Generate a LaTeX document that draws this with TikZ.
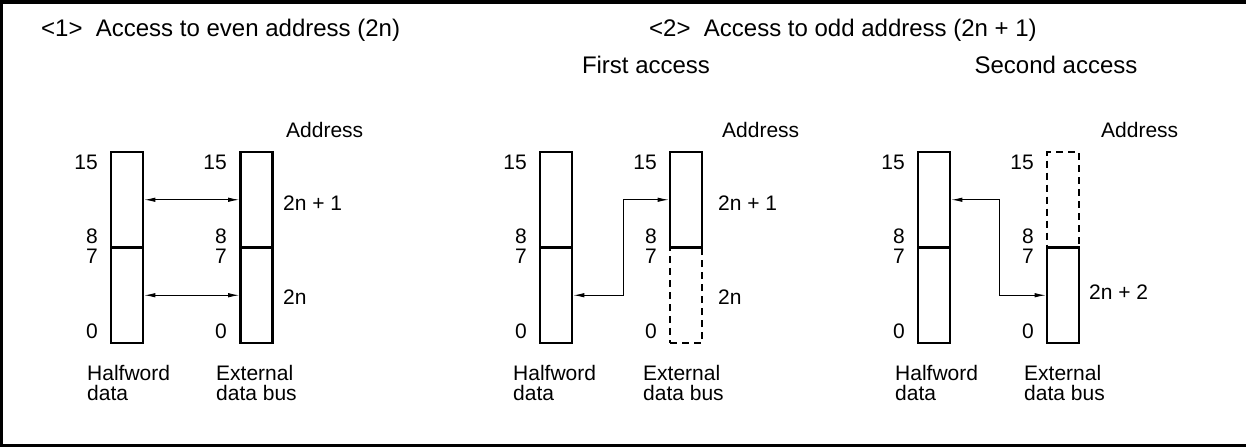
\documentclass[tikz,border=0pt]{standalone}
\usepackage{fontspec}
\setmainfont{Liberation Sans}
\usetikzlibrary{arrows.meta}
\newcommand{\lblfont}{\fontsize{21}{20}\selectfont}
\newcommand{\headfont}{\fontsize{24}{24}\selectfont}
\tikzset{
  half/.style={draw, line width=2.8pt, minimum width=32pt, minimum height=95.5pt, inner sep=0pt},
  ghost/.style={draw, line width=2.5pt, dash pattern=on 7pt off 5pt, minimum width=32pt, minimum height=95.5pt, inner sep=0pt},
  lbl/.style={font=\lblfont, inner sep=0pt},
  num/.style={lbl, anchor=base east},
  head/.style={font=\headfont, inner sep=0pt},
  link/.style={line width=0.9pt, {Latex[length=11pt,width=4.5pt]}-{Latex[length=11pt,width=4.5pt]}},
  frame/.style={line width=3.5pt}
}
\begin{document}
\begin{tikzpicture}[x=1pt,y=-1pt]
\useasboundingbox (0,0) rectangle (1246,447);
\clip (0,0) rectangle (1246,447);
\draw[frame] (1.5,2) rectangle (1252,445.5);

% headings
\node[head, anchor=base west] (t1) at (41,36) {<1>\ \ Access to even address (2n)};
\node[head, anchor=base west] (t2) at (649,36) {<2>\ \ Access to odd address (2n + 1)};
\node[head, anchor=base] (fa) at (646,73) {First access};
\node[head, anchor=base] (sa) at (1056,73) {Second access};

% address labels
\node[lbl, anchor=base west] (ad1) at (286,137) {Address};
\node[lbl, anchor=base west] (ad2) at (722,137) {Address};
\node[lbl, anchor=base west] (ad3) at (1101,137) {Address};

% panel 1 registers
\node[half] (h1u) at (127,199.75) {};
\node[half] (h1l) at (127,295.25) {};
\node[half] (e1u) at (256.5,199.75) {};
\node[half] (e1l) at (256.5,295.25) {};

% panel 2 registers
\node[half] (h2u) at (556,199.75) {};
\node[half] (h2l) at (556,295.25) {};
\node[ghost] (e2l) at (686,295.25) {};
\node[half] (e2u) at (686,199.75) {};

% panel 3 registers
\node[half] (h3u) at (934,199.75) {};
\node[half] (h3l) at (934,295.25) {};
\node[ghost] (e3u) at (1063,199.75) {};
\node[half] (e3l) at (1063,295.25) {};

% bit numbers
\foreach \bx in {111,240,540,670,918,1047} {
  \node[num] (n15-\bx) at (\bx-13,169) {15};
  \node[num] (n8-\bx) at (\bx-13,243) {8};
  \node[num] (n7-\bx) at (\bx-13,263) {7};
  \node[num] (n0-\bx) at (\bx-13,338) {0};
}

% byte addresses
\node[lbl, anchor=base west] (a11) at (283,210) {2n + 1};
\node[lbl, anchor=base west] (a10) at (283,304) {2n};
\node[lbl, anchor=base west] (a21) at (718,210) {2n + 1};
\node[lbl, anchor=base west] (a20) at (718,304) {2n};
\node[lbl, anchor=base west] (a32) at (1089,299) {2n + 2};

% captions
\foreach \nm/\cx in {c1h/87,c2h/513,c3h/895} {
  \node[lbl, anchor=base west, align=left] (\nm) at (\cx,400) {Halfword\\data};
}
\foreach \nm/\cx in {c1e/216,c2e/643,c3e/1024} {
  \node[lbl, anchor=base west, align=left] (\nm) at (\cx,400) {External\\data bus};
}

% connectors
\draw[link] (h1u) -- (e1u);
\draw[link] (h1l) -- (e1l);
\draw[link] (h2l.east) -- ++(50,0) |- (e2u.west);
\draw[link] (h3u.east) -- ++(48,0) |- (e3l.west);
\end{tikzpicture}
\end{document}
